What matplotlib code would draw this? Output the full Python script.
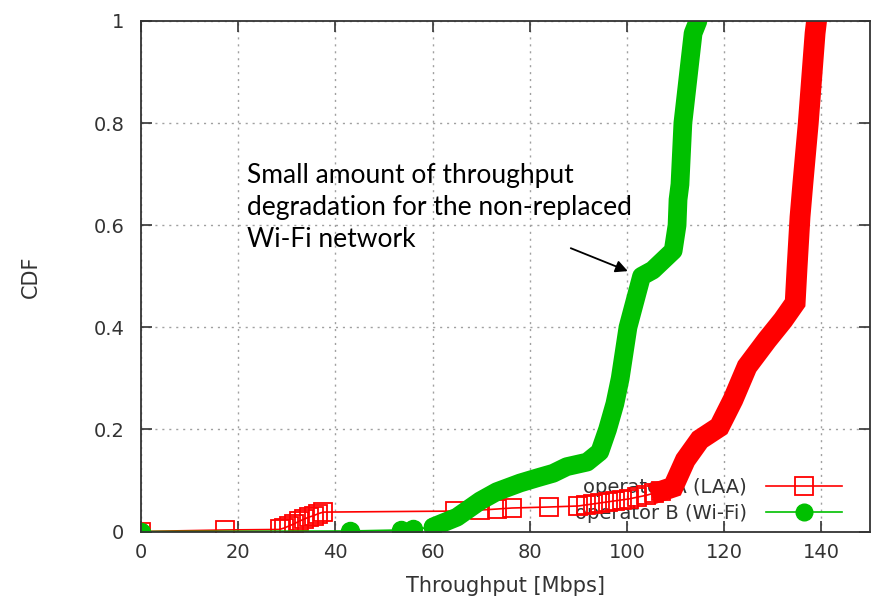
import matplotlib
matplotlib.use("Agg")
import matplotlib.pyplot as plt

# operator A (LAA) - sparse low tail, then dense part
laa_x_sparse = [0, 17.3, 28.5, 29.5, 30.5, 31.5, 32.5, 33.5, 34.5, 35.5, 36.5, 37.5,
                64.6, 69.8, 73.2, 76.3, 84.0, 90.0, 91.5, 93.0, 94.5, 96.0, 97.5,
                99.0, 100.5, 102.0, 104.0, 105.5, 107.0]
laa_y_sparse = [0, 0.003, 0.004, 0.007, 0.011, 0.015, 0.02, 0.024, 0.028, 0.031, 0.035, 0.038,
                0.040, 0.042, 0.044, 0.046, 0.048, 0.050, 0.052, 0.054, 0.056, 0.058, 0.060,
                0.062, 0.064, 0.067, 0.071, 0.075, 0.079]
laa_x_dense = [107.0, 109.5, 112.0, 115.0, 119.0, 121.8, 124.7, 128.8, 132.1, 134.6,
               135.0, 135.6, 136.2, 137.3, 138.7, 139.0]
laa_y_dense = [0.079, 0.087, 0.14, 0.18, 0.205, 0.258, 0.323, 0.375, 0.414, 0.448,
               0.518, 0.616, 0.683, 0.80, 0.976, 1.0]

# operator B (Wi-Fi)
wifi_x_sparse = [0, 43.0, 53.5, 56.0, 60.1]
wifi_y_sparse = [0, 0.001, 0.003, 0.004, 0.009]
wifi_x_dense = [60.1, 65.0, 69.8, 73.2, 78.0, 81.5, 84.8, 87.6, 91.8, 94.4, 96.0,
                97.5, 98.6, 100.2, 103.0, 105.3, 109.5, 110.3, 110.5, 110.9, 111.5,
                113.6, 114.6]
wifi_y_dense = [0.009, 0.028, 0.06, 0.078, 0.095, 0.105, 0.114, 0.127, 0.136, 0.156, 0.20,
                0.25, 0.30, 0.40, 0.50, 0.512, 0.55, 0.60, 0.65, 0.68, 0.80,
                0.976, 1.0]

red = "#ff0000"
green = "#00c000"
txt = "#333333"

fig = plt.figure(figsize=(8.71, 6.10), dpi=100)
ax = fig.add_axes([141 / 871, 78.5 / 610, 729 / 871, 510.5 / 610])

# dense parts as thick bands
ax.plot(laa_x_dense, laa_y_dense, color=red, lw=15, solid_capstyle="projecting",
        solid_joinstyle="miter", zorder=3)
ax.plot(wifi_x_dense, wifi_y_dense, color=green, lw=13.5, solid_capstyle="round",
        solid_joinstyle="round", zorder=4)

# sparse parts as linespoints
ax.plot(laa_x_sparse, laa_y_sparse, color=red, lw=1.2, marker="s", ms=13,
        mfc="none", mec=red, mew=1.3, zorder=3)
ax.plot(wifi_x_sparse, wifi_y_sparse, color=green, lw=1.2, marker="o", ms=13,
        mfc=green, mec=green, zorder=4)

# legend handles
h1, = ax.plot([], [], color=red, lw=1.2, marker="s", ms=13, mfc="none", mec=red, mew=1.3)
h2, = ax.plot([], [], color=green, lw=1.2, marker="o", ms=12, mfc=green, mec=green)
leg = ax.legend([h1, h2], ["operator A (LAA)", "operator B (Wi-Fi)"],
                loc="lower right", bbox_to_anchor=(0.962, 0.017), frameon=False,
                markerfirst=False, fontsize=14, handlelength=3.9, handletextpad=1.0,
                labelspacing=0.35, borderpad=0, borderaxespad=0)
for t in leg.get_texts():
    t.set_color(txt)
leg.set_zorder(2.5)

ax.set_xlim(0, 150)
ax.set_ylim(0, 1)
ax.set_xticks([0, 20, 40, 60, 80, 100, 120, 140])
ax.set_yticks([0, 0.2, 0.4, 0.6, 0.8, 1.0])
ax.set_yticklabels(["0", "0.2", "0.4", "0.6", "0.8", "1"])
ax.tick_params(direction="in", length=8, width=1.2, top=True, right=True,
               labelsize=14, labelcolor=txt, colors=txt, pad=8)
ax.tick_params(axis="y", pad=12)
for s in ax.spines.values():
    s.set_color(txt)
    s.set_linewidth(1.3)
ax.grid(True, color="#a0a0a0", linestyle=(0, (1.5, 3.5)), linewidth=1.0)
ax.set_axisbelow(True)
for sp in ax.spines.values():
    sp.set_zorder(6)

ax.set_xlabel("Throughput [Mbps]", fontsize=15, color=txt, labelpad=10)
ax.set_ylabel("CDF", fontsize=15, color=txt, labelpad=38)

ax.text(21.9, 0.722, "Small amount of throughput\ndegradation for the non-replaced\nWi-Fi network",
        fontsize=19, family="Lato", color="black", va="top", ha="left",
        linespacing=1.36, zorder=7)
ax.annotate("", xy=(100.7, 0.508), xytext=(87.9, 0.557),
            arrowprops=dict(arrowstyle="-|>", color="black", lw=1.3,
                            mutation_scale=18), zorder=7)

fig.savefig("out.png", dpi=100)
